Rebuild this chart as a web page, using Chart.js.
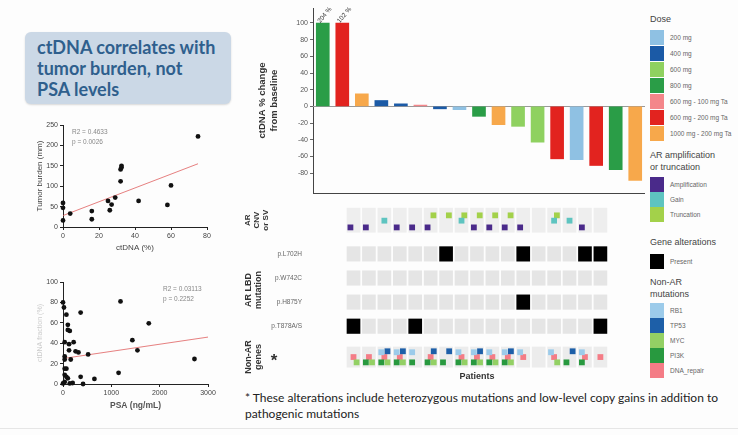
<!DOCTYPE html>
<html>
<head>
<meta charset="utf-8">
<script src="https://cdn.jsdelivr.net/npm/chart.js@4.4.1/dist/chart.umd.min.js"></script>
<style>
  body { margin: 0; width: 738px; height: 435px; background: #fdfdfd; position: relative; overflow: hidden;
         font-family: "Liberation Sans", Arial, sans-serif; }
  .abs { position: absolute; }
  canvas { position: absolute; }
  .titlebox { left: 25px; top: 32px; width: 206px; height: 72px; background: #cbd8e6; border-radius: 6px;
              box-shadow: 0 1px 2px rgba(0,0,0,0.15); font-family: Lato, "Open Sans", sans-serif; font-weight: bold;
              font-size: 18px; line-height: 21px; color: #2f5f8d; padding: 5px 0 0 12px; box-sizing: border-box; }
  .lg-title { position: absolute; left: 650px; font-size: 9px; color: #444; line-height: 12px; }
  .lg-item { position: absolute; left: 650px; height: 15px; font-size: 6.5px; color: #666; white-space: nowrap; }
  .lg-item span.sw { position: absolute; left: 0; top: 0; width: 14px; height: 15px; }
  .lg-item span.tx { position: absolute; left: 20px; top: 4px; }
  .note { left: 245px; top: 390px; width: 492px; font-family: Lato, "Open Sans", sans-serif; font-size: 12px;
          line-height: 16px; color: #222; }
  .rule { left: 0; top: 428px; width: 738px; height: 1px; background: #e6e6e6; }
</style>
</head>
<body>
<div class="abs titlebox">ctDNA correlates with<br>tumor burden, not<br>PSA levels</div>

<canvas id="scatter1" width="200" height="150" style="left:20px;top:112px"></canvas>
<canvas id="scatter2" width="200" height="150" style="left:20px;top:270px"></canvas>
<canvas id="waterfall" width="405" height="200" style="left:240px;top:0px"></canvas>
<canvas id="heatmap" width="405" height="192" style="left:240px;top:194px"></canvas>
<div id="legend"></div>

<div class="abs note">* These alterations include heterozygous mutations and low-level copy gains in addition to pathogenic mutations</div>
<div class="abs rule"></div>

<script>
// ---- datos ----
const patients = [1, 2, 3, 4, 5, 6, 7, 8, 9, 10, 11, 12, 13, 14, 15, 16, 17];
const pctChange = [100, 100, 15, 7, 3, 1.5, -3, -4, -12, -22, -24, -43, -63, -64, -71, -76, -89];
const barNotes = ['204 %', '102 %', '', '', '', '', '', '', '', '', '', '', '', '', '', '', ''];
const doseByPatient = ['800 mg', '600 mg - 200 mg Ta', '1000 mg - 200 mg Ta', '400 mg', '400 mg',
  '600 mg - 100 mg Ta', '400 mg', '200 mg', '800 mg', '1000 mg - 200 mg Ta', '600 mg', '600 mg',
  '600 mg - 200 mg Ta', '200 mg', '600 mg - 200 mg Ta', '800 mg', '1000 mg - 200 mg Ta'];

// AR CNV / SV (patient numbers)
const ampPatients = [1, 2, 4, 5, 6, 9, 10, 11, 12, 16];
const gainPatients = [3, 8, 14, 15];
const truncPatients = [6, 7, 8, 9, 10, 11, 14];

// AR LBD mutations
const mutationLabels = ['p.L702H', 'p.W742C', 'p.H875Y', 'p.T878A/S'];
const l702hPatients = [7, 12, 16, 17];
const w742cPatients = [];
const h875yPatients = [12];
const t878Patients = [1, 5, 17];

// Non-AR genes
const rb1Patients = [3, 4, 5, 8, 9, 10, 11, 12, 14, 16];
const tp53Patients = [3, 4, 6, 7, 9, 11, 15];
const mycPatients = [1, 2, 3, 4, 6, 8, 9, 10, 11, 14];
const pi3kPatients = [2, 3, 4, 5, 6, 7, 8, 9, 10, 11, 15, 16];
const dnaPatients = [1, 2, 3, 4, 6, 8, 9, 10, 11, 12, 14, 16, 17];

// tumor burden vs ctDNA
const ctdnaX = [0, 0, 0, 4, 16, 16, 25, 26, 27, 29, 32, 32, 32.5, 32.5, 42, 58, 60, 75];
const burdenY = [59, 47, 16, 33, 39, 19, 64, 41, 55, 72, 112, 141, 146, 150, 64, 54, 102, 222];
const trend1X = [0, 75];
const trend1Y = [28, 155];

// ctDNA vs PSA
const psaX = [0, 20, 70, 100, 100, 140, 35, 220, 125, 125, 260, 320, 35, 35, 160, 70, 35, 35, 70, 100,
  35, 0, 140, 200, 365, 365, 415, 520, 650, 1150, 1190, 1435, 1540, 1775, 2720];
const psaCtdnaY = [80, 75, 68, 58, 53, 52, 41, 41, 39, 33, 32, 31, 27, 24, 24, 15, 15, 9, 7, 5.6,
  2, 0.6, 0.6, 1, 70, 7, 0, 29, 5, 11, 81, 43, 33, 59.5, 24.5];
const trend2X = [0, 3000];
const trend2Y = [25, 46];

// ---- estilos ----
const FONT = '"Liberation Sans", Arial, sans-serif';
Chart.defaults.font.family = FONT;
Chart.defaults.animation = false;

const doseColors = {
  '200 mg': '#8fc1e3', '400 mg': '#1b5aa6', '600 mg': '#8fd160', '800 mg': '#2a9d47',
  '600 mg - 100 mg Ta': '#f4868a', '600 mg - 200 mg Ta': '#e2231f', '1000 mg - 200 mg Ta': '#f7a84b'
};
const cnvColors = { Amplification: '#4a2a8a', Gain: '#5ec4c0', Truncation: '#a3d14a' };
const geneColors = { RB1: '#9ccbea', TP53: '#1d5fa8', MYC: '#93d064', PI3K: '#28993f', DNA_repair: '#f47c86' };

// ---- leyenda ----
const legend = document.getElementById('legend');
function addTitle(text, top) {
  const d = document.createElement('div');
  d.className = 'lg-title';
  d.style.top = top + 'px';
  d.innerHTML = text;
  legend.appendChild(d);
}
function addItems(colors, top, step) {
  Object.keys(colors).forEach((name, i) => {
    const d = document.createElement('div');
    d.className = 'lg-item';
    d.style.top = (top + i * step) + 'px';
    d.innerHTML = `<span class="sw" style="background:${colors[name]}"></span><span class="tx">${name}</span>`;
    legend.appendChild(d);
  });
}
addTitle('Dose', 13);
addItems(doseColors, 30, 16);
addTitle('AR amplification<br>or truncation', 149);
addItems(cnvColors, 177, 15);
addTitle('Gene alterations', 236);
addItems({ Present: '#000000' }, 254, 15);
addTitle('Non-AR<br>mutations', 276);
addItems(geneColors, 303, 15);

// ---- waterfall ----
const barNotePlugin = {
  id: 'barNotes',
  beforeDatasetsDraw(chart) {
    // linea del cero
    const { ctx, chartArea, scales: { y } } = chart;
    const y0 = Math.round(y.getPixelForValue(0)) + 0.5;
    ctx.save();
    ctx.strokeStyle = '#999';
    ctx.lineWidth = 1;
    ctx.beginPath();
    ctx.moveTo(chartArea.left, y0);
    ctx.lineTo(chartArea.right, y0);
    ctx.stroke();
    ctx.restore();
  },
  afterDatasetsDraw(chart) {
    const ctx = chart.ctx;
    const bars = chart.getDatasetMeta(0).data;
    ctx.save();
    ctx.font = '6.5px ' + FONT;
    ctx.fillStyle = '#333';
    ctx.textAlign = 'center';
    ctx.textBaseline = 'middle';
    bars.forEach((bar, i) => {
      if (!barNotes[i]) return;
      ctx.save();
      ctx.translate(bar.x + 2, bar.y - 8);
      ctx.rotate(-Math.PI / 3.6);
      ctx.fillText(barNotes[i], 0, 0);
      ctx.restore();
    });
    ctx.restore();
  }
};

new Chart(document.getElementById('waterfall'), {
  type: 'bar',
  data: {
    labels: patients,
    datasets: [{
      data: pctChange,
      backgroundColor: doseByPatient.map(d => doseColors[d]),
      barThickness: 13
    }]
  },
  options: {
    responsive: false,
    layout: { padding: { top: 8, right: 0, bottom: 7, left: 0 } },
    plugins: { legend: { display: false }, tooltip: { enabled: false } },
    scales: {
      x: {
        grid: { display: false },
        ticks: { display: false },
        border: { color: '#444' },
        afterFit: s => { s.height = 0; }
      },
      y: {
        min: -104, max: 118,
        afterBuildTicks: s => { s.ticks = s.ticks.filter(t => t.value % 20 === 0 && Math.abs(t.value) <= 100); },
        afterFit: s => { s.width = 73; },
        ticks: { stepSize: 20, font: { size: 7 }, color: '#555', padding: 2 },
        grid: { drawOnChartArea: false, color: '#666', tickLength: 3 },
        border: { color: '#444' },
        title: {
          display: true, text: ['ctDNA % change', 'from baseline'],
          font: { size: 9.5, weight: 'bold' }, color: '#333', padding: { top: 17, bottom: 0 }
        }
      }
    }
  },
  plugins: [barNotePlugin]
});

// ---- heat map ----
const rowPos = { cnv: 0, l702h: 1.4, w742c: 2.4, h875y: 3.4, t878: 4.4, nonar: 5.68 };
const tileHalf = { cnv: 0.5, mut: 0.3, nonar: 0.42 };

function tiles(center, half, list, color, order) {
  return {
    type: 'bar', order, grouped: false, barThickness: 13,
    backgroundColor: color,
    data: list.map(p => ({ x: p, y: [center - half, center + half] }))
  };
}
function marks(list, center, dx, dy, color) {
  return {
    type: 'scatter', order: 0, pointStyle: 'rect', pointRadius: 4.1,
    backgroundColor: color, borderWidth: 0, clip: false,
    data: list.map(p => ({ x: p + dx, y: center + dy }))
  };
}

const heatDatasets = [
  marks(ampPatients, rowPos.cnv, -0.2, 0.3, cnvColors.Amplification),
  marks(gainPatients, rowPos.cnv, 0, 0.02, cnvColors.Gain),
  marks(truncPatients, rowPos.cnv, 0.18, -0.2, cnvColors.Truncation),
  marks(rb1Patients, rowPos.nonar, -0.2, -0.2, geneColors.RB1),
  marks(tp53Patients, rowPos.nonar, 0.2, -0.24, geneColors.TP53),
  marks(pi3kPatients, rowPos.nonar, -0.2, 0.22, geneColors.PI3K),
  marks(mycPatients, rowPos.nonar, 0.2, 0.22, geneColors.MYC),
  marks(dnaPatients, rowPos.nonar, 0, 0, geneColors.DNA_repair),
  tiles(rowPos.l702h, tileHalf.mut, l702hPatients, '#000', 1),
  tiles(rowPos.w742c, tileHalf.mut, w742cPatients, '#000', 1),
  tiles(rowPos.h875y, tileHalf.mut, h875yPatients, '#000', 1),
  tiles(rowPos.t878, tileHalf.mut, t878Patients, '#000', 1),
  tiles(rowPos.cnv, tileHalf.cnv, patients, '#eeeeee', 3),
  tiles(rowPos.l702h, tileHalf.mut, patients, '#e5e5e5', 3),
  tiles(rowPos.w742c, tileHalf.mut, patients, '#e5e5e5', 3),
  tiles(rowPos.h875y, tileHalf.mut, patients, '#e5e5e5', 3),
  tiles(rowPos.t878, tileHalf.mut, patients, '#e5e5e5', 3),
  tiles(rowPos.nonar, tileHalf.nonar, patients, '#ececec', 3)
];

const groupLabelPlugin = {
  id: 'groupLabels',
  afterDraw(chart) {
    const { ctx, scales: { y } } = chart;
    ctx.save();
    ctx.fillStyle = '#333';
    ctx.textAlign = 'center';
    ctx.textBaseline = 'middle';
    const draw = (lines, yVal, x0, size, gap) => {
      ctx.font = `bold ${size}px ${FONT}`;
      lines.forEach((t, i) => {
        ctx.save();
        ctx.translate(x0 + i * gap, y.getPixelForValue(yVal));
        ctx.rotate(-Math.PI / 2);
        ctx.fillText(t, 0, 0);
        ctx.restore();
      });
    };
    draw(['AR', 'CNV', 'or SV'], rowPos.cnv, 8, 8, 9);
    draw(['AR LBD', 'mutation'], (rowPos.w742c + rowPos.h875y) / 2, 9, 9, 10);
    draw(['Non-AR', 'genes'], rowPos.nonar, 9, 9, 10);
    ctx.font = `bold 17px ${FONT}`;
    ctx.fillText('*', 34, y.getPixelForValue(rowPos.nonar) + 4);
    ctx.restore();
  }
};

const mutRows = [rowPos.l702h, rowPos.w742c, rowPos.h875y, rowPos.t878];
new Chart(document.getElementById('heatmap'), {
  type: 'bar',
  data: { datasets: heatDatasets },
  options: {
    responsive: false,
    layout: { padding: { top: 0, right: 2, bottom: 0, left: 0 } },
    plugins: { legend: { display: false }, tooltip: { enabled: false } },
    scales: {
      x: {
        type: 'linear', min: 0.5, max: 17.5,
        grid: { display: false }, border: { display: false },
        ticks: { display: false },
        afterFit: s => { s.height = 14; },
        title: { display: true, text: 'Patients', font: { size: 9, weight: 'bold' }, color: '#333',
                 padding: { top: 0, bottom: 4 } }
      },
      y: {
        type: 'linear', min: -0.8, max: 6.3, reverse: true,
        afterBuildTicks: s => { s.ticks = mutRows.map(v => ({ value: v })); },
        afterFit: s => { s.width = 73; },
        ticks: { callback: (v, i) => mutationLabels[i], font: { size: 6.5 }, color: '#666', padding: 3 },
        grid: { display: false }, border: { display: false }
      }
    }
  },
  plugins: [groupLabelPlugin]
});

// ---- scatter plots ----
function statsPlugin(lines, dx, dy) {
  return {
    id: 'stats',
    afterDraw(chart) {
      const { ctx, chartArea } = chart;
      ctx.save();
      ctx.font = '6.5px ' + FONT;
      ctx.fillStyle = '#888';
      ctx.textBaseline = 'middle';
      lines.forEach((t, i) => ctx.fillText(t, chartArea.left + dx, chartArea.top + dy + i * 10));
      ctx.restore();
    }
  };
}

function axisOpts(min, max, step, title, titleOpts, fit) {
  return {
    type: 'linear', min, max,
    ticks: { stepSize: step, font: { size: 7 }, color: '#444', padding: 2, callback: v => String(v) },
    grid: { drawOnChartArea: false, color: '#222', tickLength: 3 },
    border: { color: '#222' },
    title: Object.assign({ display: true, text: title, color: '#444' }, titleOpts),
    afterFit: fit
  };
}

function scatterChart(id, xs, ys, tx, ty, xAxis, yAxis, padding, stats) {
  return new Chart(document.getElementById(id), {
    type: 'scatter',
    data: {
      datasets: [
        {
          data: xs.map((x, i) => ({ x, y: ys[i] })),
          backgroundColor: '#111', borderWidth: 0, pointRadius: 2.4, clip: false
        },
        {
          type: 'line', data: tx.map((x, i) => ({ x, y: ty[i] })),
          borderColor: '#e06060', borderWidth: 0.8, pointRadius: 0
        }
      ]
    },
    options: {
      responsive: false,
      layout: { padding },
      plugins: { legend: { display: false }, tooltip: { enabled: false } },
      scales: { x: xAxis, y: yAxis }
    },
    plugins: [stats]
  });
}

scatterChart('scatter1', ctdnaX, burdenY, trend1X, trend1Y,
  axisOpts(0, 80, 20, 'ctDNA (%)', { font: { size: 8 }, padding: { top: 0, bottom: 4 } }, s => { s.height = 30; }),
  axisOpts(0, 250, 50, 'Tumor burden (mm)', { font: { size: 8 }, padding: { top: 15, bottom: 0 } }, s => { s.width = 43; }),
  { top: 13, right: 13, bottom: 5, left: 0 },
  statsPlugin(['R2 = 0.4633', 'p = 0.0026'], 9, 7));

scatterChart('scatter2', psaX, psaCtdnaY, trend2X, trend2Y,
  axisOpts(0, 3000, 1000, 'PSA (ng/mL)', { font: { size: 8.5, weight: 'bold' }, color: '#555', padding: { top: 0, bottom: 3 } }, s => { s.height = 30; }),
  axisOpts(0, 100, 20, 'ctDNA fraction (%)', { font: { size: 7 }, color: '#ccc', padding: { top: 16, bottom: 0 } }, s => { s.width = 43; }),
  { top: 12, right: 12, bottom: 6, left: 0 },
  statsPlugin(['R2 = 0.03113', 'p = 0.2252'], 100, 7));
</script>
</body>
</html>
